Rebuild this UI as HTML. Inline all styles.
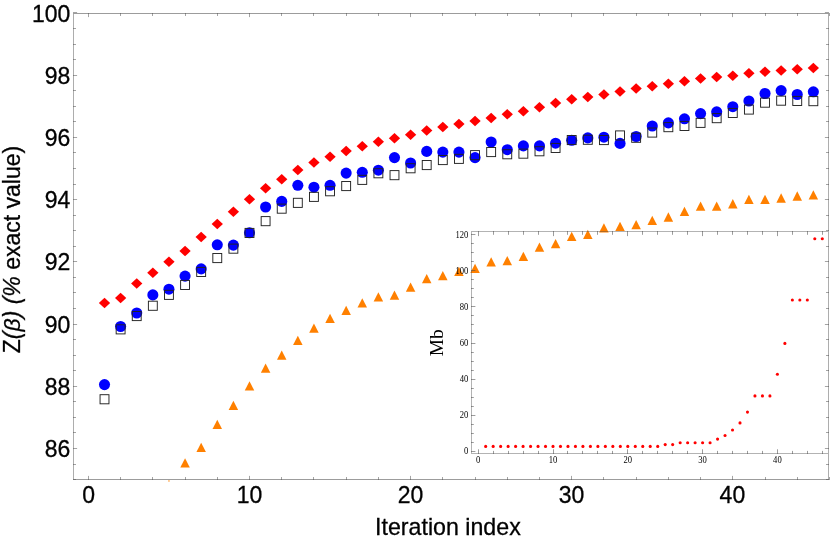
<!DOCTYPE html>
<html><head><meta charset="utf-8"><title>Z(beta) vs iteration index</title>
<style>html,body{margin:0;padding:0;background:#fff;}body{width:830px;height:540px;overflow:hidden;}svg{display:block;}text{font-family:"Liberation Sans",sans-serif;fill:#000;}.s text,text.s{font-family:"Liberation Serif",serif;}</style></head><body>
<svg width="830" height="540" viewBox="0 0 830 540">
<rect width="830" height="540" fill="#fff"/>
<g stroke="#4a4a4a" stroke-width="1" fill="none">
<path stroke-opacity="0.55" d="M73.0 13.5H829.0M73.0 479.5H829.0"/>
<path stroke-opacity="0.45" d="M73.5 14.0V479.0M828.5 14.0V479.0"/>
<path stroke-opacity="0.5" d="M88.5 480.0v-4.1M88.5 13.0v4.1M120.5 480.0v-3.0M120.5 13.0v3.0M152.5 480.0v-3.0M152.5 13.0v3.0M185.5 480.0v-3.0M185.5 13.0v3.0M217.5 480.0v-3.0M217.5 13.0v3.0M249.5 480.0v-4.1M249.5 13.0v4.1M281.5 480.0v-3.0M281.5 13.0v3.0M313.5 480.0v-3.0M313.5 13.0v3.0M346.5 480.0v-3.0M346.5 13.0v3.0M378.5 480.0v-3.0M378.5 13.0v3.0M410.5 480.0v-4.1M410.5 13.0v4.1M442.5 480.0v-3.0M442.5 13.0v3.0M475.5 480.0v-3.0M475.5 13.0v3.0M507.5 480.0v-3.0M507.5 13.0v3.0M539.5 480.0v-3.0M539.5 13.0v3.0M571.5 480.0v-4.1M571.5 13.0v4.1M603.5 480.0v-3.0M603.5 13.0v3.0M636.5 480.0v-3.0M636.5 13.0v3.0M668.5 480.0v-3.0M668.5 13.0v3.0M700.5 480.0v-3.0M700.5 13.0v3.0M732.5 480.0v-4.1M732.5 13.0v4.1M765.5 480.0v-3.0M765.5 13.0v3.0M797.5 480.0v-3.0M797.5 13.0v3.0M829.5 480.0v-3.0M829.5 13.0v3.0M73.0 479.5h3.0M829.0 479.5h-3.0M73.0 464.5h3.0M829.0 464.5h-3.0M73.0 448.5h4.1M829.0 448.5h-4.1M73.0 432.5h3.0M829.0 432.5h-3.0M73.0 417.5h3.0M829.0 417.5h-3.0M73.0 401.5h3.0M829.0 401.5h-3.0M73.0 386.5h4.1M829.0 386.5h-4.1M73.0 370.5h3.0M829.0 370.5h-3.0M73.0 355.5h3.0M829.0 355.5h-3.0M73.0 339.5h3.0M829.0 339.5h-3.0M73.0 324.5h4.1M829.0 324.5h-4.1M73.0 308.5h3.0M829.0 308.5h-3.0M73.0 292.5h3.0M829.0 292.5h-3.0M73.0 277.5h3.0M829.0 277.5h-3.0M73.0 261.5h4.1M829.0 261.5h-4.1M73.0 246.5h3.0M829.0 246.5h-3.0M73.0 230.5h3.0M829.0 230.5h-3.0M73.0 215.5h3.0M829.0 215.5h-3.0M73.0 199.5h4.1M829.0 199.5h-4.1M73.0 184.5h3.0M829.0 184.5h-3.0M73.0 168.5h3.0M829.0 168.5h-3.0M73.0 152.5h3.0M829.0 152.5h-3.0M73.0 137.5h4.1M829.0 137.5h-4.1M73.0 121.5h3.0M829.0 121.5h-3.0M73.0 106.5h3.0M829.0 106.5h-3.0M73.0 90.5h3.0M829.0 90.5h-3.0M73.0 75.5h4.1M829.0 75.5h-4.1M73.0 59.5h3.0M829.0 59.5h-3.0M73.0 44.5h3.0M829.0 44.5h-3.0M73.0 28.5h3.0M829.0 28.5h-3.0M73.0 12.5h4.1M829.0 12.5h-4.1"/>
</g>
<g font-size="23" stroke="#000" stroke-width="0.3" style="opacity:0.999">
<text transform="translate(70.3 456.88) scale(1 1.08)" text-anchor="end">86</text>
<text transform="translate(70.3 394.75) scale(1 1.08)" text-anchor="end">88</text>
<text transform="translate(70.3 332.62) scale(1 1.08)" text-anchor="end">90</text>
<text transform="translate(70.3 270.48) scale(1 1.08)" text-anchor="end">92</text>
<text transform="translate(70.3 208.35) scale(1 1.08)" text-anchor="end">94</text>
<text transform="translate(70.3 146.22) scale(1 1.08)" text-anchor="end">96</text>
<text transform="translate(70.3 84.08) scale(1 1.08)" text-anchor="end">98</text>
<text transform="translate(70.3 21.95) scale(1 1.08)" text-anchor="end">100</text>
<text transform="translate(88.55 503.4) scale(1 1.08)" text-anchor="middle">0</text>
<text transform="translate(249.51 503.4) scale(1 1.08)" text-anchor="middle">10</text>
<text transform="translate(410.47 503.4) scale(1 1.08)" text-anchor="middle">20</text>
<text transform="translate(571.43 503.4) scale(1 1.08)" text-anchor="middle">30</text>
<text transform="translate(732.39 503.4) scale(1 1.08)" text-anchor="middle">40</text>
<text x="447.9" y="535.0" font-size="23.2" text-anchor="middle">Iteration index</text>
<text transform="translate(19.8 249.5) rotate(-90)" font-size="23" text-anchor="middle">Z<tspan font-style="italic">(&#946;) (%</tspan> exact value)</text>
</g>
<clipPath id="c"><rect x="73.5" y="13.5" width="755.0" height="466.0"/></clipPath>
<g clip-path="url(#c)">
<g fill="#ff8000">
<path d="M180.31 467.50L185.06 458.20L189.81 467.50z"/>
<path d="M196.42 452.05L201.17 442.75L205.92 452.05z"/>
<path d="M212.53 429.05L217.28 419.75L222.03 429.05z"/>
<path d="M228.64 410.00L233.39 400.70L238.14 410.00z"/>
<path d="M244.75 390.55L249.50 381.25L254.25 390.55z"/>
<path d="M260.86 372.75L265.61 363.45L270.36 372.75z"/>
<path d="M276.97 359.75L281.72 350.45L286.47 359.75z"/>
<path d="M293.08 345.05L297.83 335.75L302.58 345.05z"/>
<path d="M309.19 332.75L313.94 323.45L318.69 332.75z"/>
<path d="M325.30 323.05L330.05 313.75L334.80 323.05z"/>
<path d="M341.41 315.05L346.16 305.75L350.91 315.05z"/>
<path d="M357.52 307.55L362.27 298.25L367.02 307.55z"/>
<path d="M373.63 301.55L378.38 292.25L383.13 301.55z"/>
<path d="M389.74 299.75L394.49 290.45L399.24 299.75z"/>
<path d="M405.85 291.85L410.60 282.55L415.35 291.85z"/>
<path d="M421.96 283.35L426.71 274.05L431.46 283.35z"/>
<path d="M438.07 280.35L442.82 271.05L447.57 280.35z"/>
<path d="M454.18 276.05L458.93 266.75L463.68 276.05z"/>
<path d="M470.29 272.95L475.04 263.65L479.79 272.95z"/>
<path d="M486.40 266.45L491.15 257.15L495.90 266.45z"/>
<path d="M502.51 265.25L507.26 255.95L512.01 265.25z"/>
<path d="M518.62 260.95L523.37 251.65L528.12 260.95z"/>
<path d="M534.73 251.85L539.48 242.55L544.23 251.85z"/>
<path d="M550.84 248.25L555.59 238.95L560.34 248.25z"/>
<path d="M566.95 241.05L571.70 231.75L576.45 241.05z"/>
<path d="M583.06 238.95L587.81 229.65L592.56 238.95z"/>
<path d="M599.17 232.45L603.92 223.15L608.67 232.45z"/>
<path d="M615.28 231.05L620.03 221.75L624.78 231.05z"/>
<path d="M631.39 229.35L636.14 220.05L640.89 229.35z"/>
<path d="M647.50 225.05L652.25 215.75L657.00 225.05z"/>
<path d="M663.61 221.65L668.36 212.35L673.11 221.65z"/>
<path d="M679.72 216.05L684.47 206.75L689.22 216.05z"/>
<path d="M695.83 210.75L700.58 201.45L705.33 210.75z"/>
<path d="M711.94 210.80L716.69 201.50L721.44 210.80z"/>
<path d="M728.05 208.40L732.80 199.10L737.55 208.40z"/>
<path d="M744.16 204.00L748.91 194.70L753.66 204.00z"/>
<path d="M760.27 203.95L765.02 194.65L769.77 203.95z"/>
<path d="M776.38 202.65L781.13 193.35L785.88 202.65z"/>
<path d="M792.49 200.65L797.24 191.35L801.99 200.65z"/>
<path d="M808.60 199.45L813.35 190.15L818.10 199.45z"/>
</g>
<g fill="#ff0000">
<path d="M98.86 302.90L104.51 297.65L110.16 302.90L104.51 308.15z"/>
<path d="M114.97 298.10L120.62 292.85L126.27 298.10L120.62 303.35z"/>
<path d="M131.08 283.60L136.73 278.35L142.38 283.60L136.73 288.85z"/>
<path d="M147.19 272.65L152.84 267.40L158.49 272.65L152.84 277.90z"/>
<path d="M163.30 261.70L168.95 256.45L174.60 261.70L168.95 266.95z"/>
<path d="M179.41 251.10L185.06 245.85L190.71 251.10L185.06 256.35z"/>
<path d="M195.52 237.10L201.17 231.85L206.82 237.10L201.17 242.35z"/>
<path d="M211.63 223.90L217.28 218.65L222.93 223.90L217.28 229.15z"/>
<path d="M227.74 211.80L233.39 206.55L239.04 211.80L233.39 217.05z"/>
<path d="M243.85 199.30L249.50 194.05L255.15 199.30L249.50 204.55z"/>
<path d="M259.96 188.20L265.61 182.95L271.26 188.20L265.61 193.45z"/>
<path d="M276.07 179.30L281.72 174.05L287.37 179.30L281.72 184.55z"/>
<path d="M292.18 170.10L297.83 164.85L303.48 170.10L297.83 175.35z"/>
<path d="M308.29 162.40L313.94 157.15L319.59 162.40L313.94 167.65z"/>
<path d="M324.40 156.68L330.05 151.43L335.70 156.68L330.05 161.93z"/>
<path d="M340.51 150.95L346.16 145.70L351.81 150.95L346.16 156.20z"/>
<path d="M356.62 146.15L362.27 140.90L367.92 146.15L362.27 151.40z"/>
<path d="M372.73 141.75L378.38 136.50L384.03 141.75L378.38 147.00z"/>
<path d="M388.84 138.15L394.49 132.90L400.14 138.15L394.49 143.40z"/>
<path d="M404.95 134.85L410.60 129.60L416.25 134.85L410.60 140.10z"/>
<path d="M421.06 130.45L426.71 125.20L432.36 130.45L426.71 135.70z"/>
<path d="M437.17 127.05L442.82 121.80L448.47 127.05L442.82 132.30z"/>
<path d="M453.28 123.95L458.93 118.70L464.58 123.95L458.93 129.20z"/>
<path d="M469.39 121.05L475.04 115.80L480.69 121.05L475.04 126.30z"/>
<path d="M485.50 117.95L491.15 112.70L496.80 117.95L491.15 123.20z"/>
<path d="M501.61 114.35L507.26 109.10L512.91 114.35L507.26 119.60z"/>
<path d="M517.72 111.25L523.37 106.00L529.02 111.25L523.37 116.50z"/>
<path d="M533.83 107.35L539.48 102.10L545.13 107.35L539.48 112.60z"/>
<path d="M549.94 103.05L555.59 97.80L561.24 103.05L555.59 108.30z"/>
<path d="M566.05 99.35L571.70 94.10L577.35 99.35L571.70 104.60z"/>
<path d="M582.16 96.95L587.81 91.70L593.46 96.95L587.81 102.20z"/>
<path d="M598.27 94.55L603.92 89.30L609.57 94.55L603.92 99.80z"/>
<path d="M614.38 91.45L620.03 86.20L625.68 91.45L620.03 96.70z"/>
<path d="M630.49 88.55L636.14 83.30L641.79 88.55L636.14 93.80z"/>
<path d="M646.60 86.15L652.25 80.90L657.90 86.15L652.25 91.40z"/>
<path d="M662.71 83.85L668.36 78.60L674.01 83.85L668.36 89.10z"/>
<path d="M678.82 81.15L684.47 75.90L690.12 81.15L684.47 86.40z"/>
<path d="M694.93 78.45L700.58 73.20L706.23 78.45L700.58 83.70z"/>
<path d="M711.04 76.95L716.69 71.70L722.34 76.95L716.69 82.20z"/>
<path d="M727.15 75.75L732.80 70.50L738.45 75.75L732.80 81.00z"/>
<path d="M743.26 73.15L748.91 67.90L754.56 73.15L748.91 78.40z"/>
<path d="M759.37 71.65L765.02 66.40L770.67 71.65L765.02 76.90z"/>
<path d="M775.48 70.45L781.13 65.20L786.78 70.45L781.13 75.70z"/>
<path d="M791.59 69.25L797.24 64.00L802.89 69.25L797.24 74.50z"/>
<path d="M807.70 68.05L813.35 62.80L819.00 68.05L813.35 73.30z"/>
</g>
<g fill="#0000ff">
<circle cx="104.51" cy="384.60" r="5.55"/>
<circle cx="120.62" cy="326.50" r="5.55"/>
<circle cx="136.73" cy="313.00" r="5.55"/>
<circle cx="152.84" cy="294.90" r="5.55"/>
<circle cx="168.95" cy="289.20" r="5.55"/>
<circle cx="185.06" cy="276.10" r="5.55"/>
<circle cx="201.17" cy="268.90" r="5.55"/>
<circle cx="217.28" cy="244.80" r="5.55"/>
<circle cx="233.39" cy="245.10" r="5.55"/>
<circle cx="249.50" cy="232.80" r="5.55"/>
<circle cx="265.61" cy="207.00" r="5.55"/>
<circle cx="281.72" cy="201.40" r="5.55"/>
<circle cx="297.83" cy="185.30" r="5.55"/>
<circle cx="313.94" cy="187.20" r="5.55"/>
<circle cx="330.05" cy="185.30" r="5.55"/>
<circle cx="346.16" cy="173.10" r="5.55"/>
<circle cx="362.27" cy="172.30" r="5.55"/>
<circle cx="378.38" cy="170.20" r="5.55"/>
<circle cx="394.49" cy="157.60" r="5.55"/>
<circle cx="410.60" cy="163.00" r="5.55"/>
<circle cx="426.71" cy="151.40" r="5.55"/>
<circle cx="442.82" cy="152.10" r="5.55"/>
<circle cx="458.93" cy="152.10" r="5.55"/>
<circle cx="475.04" cy="157.60" r="5.55"/>
<circle cx="491.15" cy="142.00" r="5.55"/>
<circle cx="507.26" cy="149.70" r="5.55"/>
<circle cx="523.37" cy="145.90" r="5.55"/>
<circle cx="539.48" cy="145.90" r="5.55"/>
<circle cx="555.59" cy="143.20" r="5.55"/>
<circle cx="571.70" cy="140.30" r="5.55"/>
<circle cx="587.81" cy="137.90" r="5.55"/>
<circle cx="603.92" cy="137.20" r="5.55"/>
<circle cx="620.03" cy="143.40" r="5.55"/>
<circle cx="636.14" cy="136.50" r="5.55"/>
<circle cx="652.25" cy="126.00" r="5.55"/>
<circle cx="668.36" cy="122.90" r="5.55"/>
<circle cx="684.47" cy="118.80" r="5.55"/>
<circle cx="700.58" cy="113.60" r="5.55"/>
<circle cx="716.69" cy="111.80" r="5.55"/>
<circle cx="732.80" cy="106.70" r="5.55"/>
<circle cx="748.91" cy="101.00" r="5.55"/>
<circle cx="765.02" cy="93.50" r="5.55"/>
<circle cx="781.13" cy="90.60" r="5.55"/>
<circle cx="797.24" cy="94.50" r="5.55"/>
<circle cx="813.35" cy="91.80" r="5.55"/>
</g>
<g fill="none" stroke="#222" stroke-width="0.95">
<rect x="100.06" y="394.70" width="8.9" height="9.1"/>
<rect x="116.17" y="324.80" width="8.9" height="9.1"/>
<rect x="132.28" y="311.50" width="8.9" height="9.1"/>
<rect x="148.39" y="301.20" width="8.9" height="9.1"/>
<rect x="164.50" y="290.30" width="8.9" height="9.1"/>
<rect x="180.61" y="280.40" width="8.9" height="9.1"/>
<rect x="196.72" y="267.40" width="8.9" height="9.1"/>
<rect x="212.83" y="253.50" width="8.9" height="9.1"/>
<rect x="228.94" y="244.10" width="8.9" height="9.1"/>
<rect x="245.05" y="228.40" width="8.9" height="9.1"/>
<rect x="261.16" y="216.60" width="8.9" height="9.1"/>
<rect x="277.27" y="204.10" width="8.9" height="9.1"/>
<rect x="293.38" y="198.30" width="8.9" height="9.1"/>
<rect x="309.49" y="192.30" width="8.9" height="9.1"/>
<rect x="325.60" y="186.70" width="8.9" height="9.1"/>
<rect x="341.71" y="181.50" width="8.9" height="9.1"/>
<rect x="357.82" y="175.30" width="8.9" height="9.1"/>
<rect x="373.93" y="168.70" width="8.9" height="9.1"/>
<rect x="390.04" y="170.60" width="8.9" height="9.1"/>
<rect x="406.15" y="163.70" width="8.9" height="9.1"/>
<rect x="422.26" y="160.50" width="8.9" height="9.1"/>
<rect x="438.37" y="155.50" width="8.9" height="9.1"/>
<rect x="454.48" y="154.30" width="8.9" height="9.1"/>
<rect x="470.59" y="150.60" width="8.9" height="9.1"/>
<rect x="486.70" y="147.50" width="8.9" height="9.1"/>
<rect x="502.81" y="149.70" width="8.9" height="9.1"/>
<rect x="518.92" y="149.10" width="8.9" height="9.1"/>
<rect x="535.03" y="146.70" width="8.9" height="9.1"/>
<rect x="551.14" y="143.40" width="8.9" height="9.1"/>
<rect x="567.25" y="135.50" width="8.9" height="9.1"/>
<rect x="583.36" y="135.20" width="8.9" height="9.1"/>
<rect x="599.47" y="135.50" width="8.9" height="9.1"/>
<rect x="615.58" y="130.90" width="8.9" height="9.1"/>
<rect x="631.69" y="133.20" width="8.9" height="9.1"/>
<rect x="647.80" y="128.00" width="8.9" height="9.1"/>
<rect x="663.91" y="122.60" width="8.9" height="9.1"/>
<rect x="680.02" y="121.40" width="8.9" height="9.1"/>
<rect x="696.13" y="118.30" width="8.9" height="9.1"/>
<rect x="712.24" y="113.60" width="8.9" height="9.1"/>
<rect x="728.35" y="108.40" width="8.9" height="9.1"/>
<rect x="744.46" y="105.00" width="8.9" height="9.1"/>
<rect x="760.57" y="98.10" width="8.9" height="9.1"/>
<rect x="776.68" y="96.10" width="8.9" height="9.1"/>
<rect x="792.79" y="96.40" width="8.9" height="9.1"/>
<rect x="808.90" y="96.60" width="8.9" height="9.1"/>
</g>
</g>
<rect x="168.1" y="480.2" width="1.7" height="1.5" fill="#ffb566"/>
<g stroke="#4a4a4a" stroke-width="1" fill="none">
<path stroke-opacity="0.42" d="M471.5 454.0V231.0M472.0 231.5H828.0M472.0 453.5H828.0"/>
<path stroke-opacity="0.55" d="M478.5 454.0v-4.7M478.5 231.0v5.1M493.5 454.0v-3.1M493.5 231.0v3.8M508.5 454.0v-3.1M508.5 231.0v3.8M523.5 454.0v-3.1M523.5 231.0v3.8M538.5 454.0v-3.1M538.5 231.0v3.8M553.5 454.0v-4.7M553.5 231.0v5.1M567.5 454.0v-3.1M567.5 231.0v3.8M582.5 454.0v-3.1M582.5 231.0v3.8M597.5 454.0v-3.1M597.5 231.0v3.8M612.5 454.0v-3.1M612.5 231.0v3.8M627.5 454.0v-4.7M627.5 231.0v5.1M642.5 454.0v-3.1M642.5 231.0v3.8M657.5 454.0v-3.1M657.5 231.0v3.8M672.5 454.0v-3.1M672.5 231.0v3.8M687.5 454.0v-3.1M687.5 231.0v3.8M702.5 454.0v-4.7M702.5 231.0v5.1M717.5 454.0v-3.1M717.5 231.0v3.8M732.5 454.0v-3.1M732.5 231.0v3.8M747.5 454.0v-3.1M747.5 231.0v3.8M762.5 454.0v-3.1M762.5 231.0v3.8M777.5 454.0v-4.7M777.5 231.0v5.1M792.5 454.0v-3.1M792.5 231.0v3.8M807.5 454.0v-3.1M807.5 231.0v3.8M822.5 454.0v-3.1M822.5 231.0v3.8M471.0 451.5h4.4M471.0 442.5h2.8M471.0 433.5h2.8M471.0 424.5h2.8M471.0 415.5h4.4M471.0 406.5h2.8M471.0 397.5h2.8M471.0 388.5h2.8M471.0 379.5h4.4M471.0 370.5h2.8M471.0 361.5h2.8M471.0 352.5h2.8M471.0 343.5h4.4M471.0 333.5h2.8M471.0 324.5h2.8M471.0 315.5h2.8M471.0 306.5h4.4M471.0 297.5h2.8M471.0 288.5h2.8M471.0 279.5h2.8M471.0 270.5h4.4M471.0 261.5h2.8M471.0 252.5h2.8M471.0 243.5h2.8M471.0 234.5h4.4"/>
</g>
<g class="s" font-size="8.6" style="opacity:0.999">
<text transform="translate(468.3 454.30) scale(1 1.13)" text-anchor="end">0</text>
<text transform="translate(468.3 418.20) scale(1 1.13)" text-anchor="end">20</text>
<text transform="translate(468.3 382.10) scale(1 1.13)" text-anchor="end">40</text>
<text transform="translate(468.3 346.00) scale(1 1.13)" text-anchor="end">60</text>
<text transform="translate(468.3 309.90) scale(1 1.13)" text-anchor="end">80</text>
<text transform="translate(468.3 273.80) scale(1 1.13)" text-anchor="end">100</text>
<text transform="translate(468.3 237.70) scale(1 1.13)" text-anchor="end">120</text>
<text transform="translate(478.20 463.2) scale(1 1.13)" text-anchor="middle">0</text>
<text transform="translate(553.00 463.2) scale(1 1.13)" text-anchor="middle">10</text>
<text transform="translate(627.80 463.2) scale(1 1.13)" text-anchor="middle">20</text>
<text transform="translate(702.60 463.2) scale(1 1.13)" text-anchor="middle">30</text>
<text transform="translate(777.40 463.2) scale(1 1.13)" text-anchor="middle">40</text>
</g>
<text class="s" style="opacity:0.999" font-size="19.5" transform="translate(443.4 342.8) rotate(-90)" text-anchor="middle">Mb</text>
<g fill="#ff0000">
<circle cx="485.68" cy="446.40" r="1.55"/>
<circle cx="493.16" cy="446.40" r="1.55"/>
<circle cx="500.64" cy="446.40" r="1.55"/>
<circle cx="508.12" cy="446.40" r="1.55"/>
<circle cx="515.60" cy="446.40" r="1.55"/>
<circle cx="523.08" cy="446.40" r="1.55"/>
<circle cx="530.56" cy="446.40" r="1.55"/>
<circle cx="538.04" cy="446.40" r="1.55"/>
<circle cx="545.52" cy="446.40" r="1.55"/>
<circle cx="553.00" cy="446.40" r="1.55"/>
<circle cx="560.48" cy="446.40" r="1.55"/>
<circle cx="567.96" cy="446.40" r="1.55"/>
<circle cx="575.44" cy="446.40" r="1.55"/>
<circle cx="582.92" cy="446.40" r="1.55"/>
<circle cx="590.40" cy="446.40" r="1.55"/>
<circle cx="597.88" cy="446.40" r="1.55"/>
<circle cx="605.36" cy="446.40" r="1.55"/>
<circle cx="612.84" cy="446.40" r="1.55"/>
<circle cx="620.32" cy="446.40" r="1.55"/>
<circle cx="627.80" cy="446.40" r="1.55"/>
<circle cx="635.28" cy="446.40" r="1.55"/>
<circle cx="642.76" cy="446.40" r="1.55"/>
<circle cx="650.24" cy="446.40" r="1.55"/>
<circle cx="657.72" cy="446.40" r="1.55"/>
<circle cx="665.20" cy="444.60" r="1.55"/>
<circle cx="672.68" cy="444.60" r="1.55"/>
<circle cx="680.16" cy="442.80" r="1.55"/>
<circle cx="687.64" cy="442.80" r="1.55"/>
<circle cx="695.12" cy="442.80" r="1.55"/>
<circle cx="702.60" cy="442.80" r="1.55"/>
<circle cx="710.08" cy="442.80" r="1.55"/>
<circle cx="717.56" cy="439.10" r="1.55"/>
<circle cx="725.04" cy="435.50" r="1.55"/>
<circle cx="732.52" cy="430.00" r="1.55"/>
<circle cx="740.00" cy="422.90" r="1.55"/>
<circle cx="747.48" cy="412.10" r="1.55"/>
<circle cx="754.96" cy="395.90" r="1.55"/>
<circle cx="762.44" cy="395.90" r="1.55"/>
<circle cx="769.92" cy="395.90" r="1.55"/>
<circle cx="777.40" cy="374.30" r="1.55"/>
<circle cx="784.88" cy="343.40" r="1.55"/>
<circle cx="792.36" cy="300.00" r="1.55"/>
<circle cx="799.84" cy="300.00" r="1.55"/>
<circle cx="807.32" cy="300.00" r="1.55"/>
<circle cx="814.80" cy="238.70" r="1.55"/>
<circle cx="822.28" cy="238.70" r="1.55"/>
</g>
</svg></body></html>
